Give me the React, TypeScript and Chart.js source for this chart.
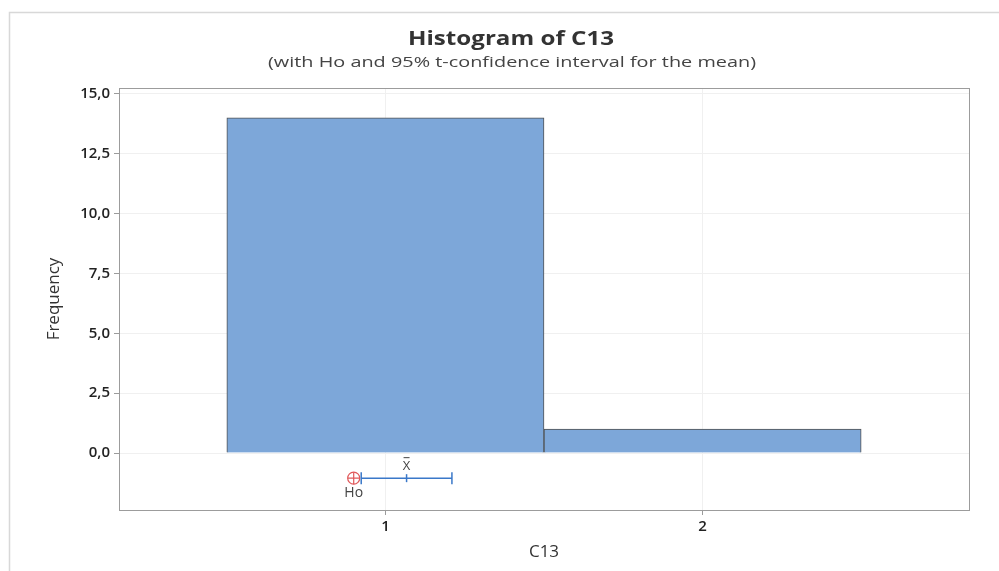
import React, { useEffect, useRef } from 'react';
import { Chart, registerables } from 'chart.js';

Chart.register(...registerables);

// ---- data ----
const binCenters = [1, 2];
const frequencies = [14, 1];
const yTickValues = [0, 2.5, 5, 7.5, 10, 12.5, 15];
const xTickValues = [1, 2];
const hoValue = [0.9];
const ciBounds = [0.9237, 1.2097];
const meanValue = [1.0667];
const intervalLevel = [-1.05];
const titleText = 'Histogram of C13';
const subtitleText = '(with Ho and 95% t-confidence interval for the mean)';
const xTitle = 'C13';
const yTitle = 'Frequency';

const FONT = '"Open Sans", "Noto Sans", sans-serif';
const TICK_FONT = '"Open Sans", "Noto Sans", sans-serif';

function drawStretched(ctx: CanvasRenderingContext2D, text: string, cx: number, cy: number, targetWidth: number) {
  const w = ctx.measureText(text).width || 1;
  const s = targetWidth / w;
  ctx.save();
  ctx.translate(cx, cy);
  ctx.scale(s, 1);
  ctx.fillText(text, 0, 0);
  ctx.restore();
}

export default function App() {
  const ref = useRef<HTMLCanvasElement | null>(null);

  useEffect(() => {
    document.body.style.margin = '0';
    const canvas = ref.current;
    if (!canvas) return;

    const decorPlugin = {
      id: 'decor',
      beforeDraw(chart: any) {
        const ctx = chart.ctx;
        ctx.save();
        ctx.fillStyle = '#ffffff';
        ctx.fillRect(0, 0, chart.width, chart.height);
        // outer frame
        ctx.strokeStyle = '#d8d8d8';
        ctx.lineWidth = 1.5;
        ctx.beginPath();
        ctx.moveTo(9.5, chart.height);
        ctx.lineTo(9.5, 12.5);
        ctx.lineTo(chart.width, 12.5);
        ctx.stroke();
        // titles
        ctx.textAlign = 'center';
        ctx.textBaseline = 'middle';
        ctx.fillStyle = '#333333';
        ctx.font = `bold 19px ${FONT}`;
        drawStretched(ctx, titleText, 511, 40, 206);
        ctx.fillStyle = '#444444';
        ctx.font = `15px ${FONT}`;
        drawStretched(ctx, subtitleText, 512, 63, 488);
        ctx.restore();
      },
      afterDraw(chart: any) {
        const ctx = chart.ctx;
        const a = chart.chartArea;
        ctx.save();
        ctx.strokeStyle = '#9c9c9c';
        ctx.lineWidth = 1;
        ctx.strokeRect(a.left + 0.5, a.top + 0.5, a.right - a.left, a.bottom - a.top);
        // interval labels
        const xs = chart.scales.x;
        const ys = chart.scales.y;
        const yLine = ys.getPixelForValue(intervalLevel[0]);
        ctx.fillStyle = '#444444';
        ctx.font = `13px ${FONT}`;
        ctx.textAlign = 'center';
        ctx.textBaseline = 'middle';
        const mx = xs.getPixelForValue(meanValue[0]);
        ctx.fillText('X', mx, yLine - 12);
        ctx.strokeStyle = '#444444';
        ctx.lineWidth = 1;
        ctx.beginPath();
        ctx.moveTo(mx - 3, yLine - 20.5);
        ctx.lineTo(mx + 3, yLine - 20.5);
        ctx.stroke();
        const hx = xs.getPixelForValue(hoValue[0]);
        ctx.font = `14px ${FONT}`;
        ctx.fillText('Ho', hx, yLine + 15);
        ctx.restore();
      },
    };

    const chart = new Chart(canvas, {
      type: 'bar',
      data: {
        datasets: [
          {
            type: 'line',
            label: 'CI',
            data: ciBounds.map((x) => ({ x, y: intervalLevel[0] })),
            borderColor: '#3a78c9',
            borderWidth: 1.5,
            pointStyle: 'line',
            rotation: 90,
            pointRadius: 6,
            pointBorderColor: '#3a78c9',
            pointBorderWidth: 1.5,
            order: 0,
          } as any,
          {
            type: 'line',
            label: 'Mean',
            data: meanValue.map((x) => ({ x, y: intervalLevel[0] })),
            showLine: false,
            pointStyle: 'line',
            rotation: 90,
            pointRadius: 4,
            pointBorderColor: '#3a78c9',
            pointBorderWidth: 1.5,
            order: 0,
          } as any,
          {
            type: 'line',
            label: 'Ho circle',
            data: hoValue.map((x) => ({ x, y: intervalLevel[0] })),
            showLine: false,
            pointStyle: 'circle',
            pointRadius: 6,
            pointBackgroundColor: 'rgba(255,255,255,0)',
            pointBorderColor: '#e0585a',
            pointBorderWidth: 1.2,
            order: 0,
          } as any,
          {
            type: 'line',
            label: 'Ho cross',
            data: hoValue.map((x) => ({ x, y: intervalLevel[0] })),
            showLine: false,
            pointStyle: 'cross',
            pointRadius: 6,
            pointBorderColor: '#e0585a',
            pointBorderWidth: 1.2,
            order: 0,
          } as any,
          {
            type: 'bar',
            label: 'Frequency',
            data: binCenters.map((x, i) => ({ x, y: frequencies[i] })),
            backgroundColor: '#7da7d9',
            borderColor: '#505050',
            borderWidth: 1,
            barPercentage: 1,
            categoryPercentage: 1,
            order: 1,
          } as any,
        ],
      },
      options: {
        responsive: false,
        animation: false,
        events: [],
        layout: { padding: { top: 88, right: 30, left: 0, bottom: 0 } },
        plugins: {
          legend: { display: false },
          tooltip: { enabled: false },
          title: { display: false },
        },
        scales: {
          x: {
            type: 'linear',
            min: 0.16,
            max: 2.84,
            offset: false,
            afterFit: (s: any) => {
              s.height = 61;
            },
            afterBuildTicks: (s: any) => {
              s.ticks = xTickValues.map((v) => ({ value: v }));
            },
            grid: {
              offset: false,
              color: '#f0f0f0',
              tickColor: '#9c9c9c',
              tickLength: 5,
              drawTicks: true,
            },
            border: { display: false },
            ticks: {
              color: '#222222',
              font: { family: TICK_FONT, size: 15, weight: '600' },
              padding: 3,
              maxRotation: 0,
              callback: (v: any) => String(v),
            },
            title: {
              display: true,
              text: xTitle,
              color: '#333333',
              font: { family: FONT, size: 17 },
              padding: { top: 0, bottom: 9 },
            },
          },
          y: {
            type: 'linear',
            min: -2.38,
            max: 15.25,
            afterFit: (s: any) => {
              s.width = 119;
            },
            afterBuildTicks: (s: any) => {
              s.ticks = yTickValues.map((v) => ({ value: v }));
            },
            grid: {
              color: '#f0f0f0',
              tickColor: '#9c9c9c',
              tickLength: 5,
              drawTicks: true,
            },
            border: { display: false },
            ticks: {
              color: '#222222',
              font: { family: TICK_FONT, size: 15, weight: '600' },
              padding: 4,
              callback: (v: any) => Number(v).toFixed(1).replace('.', ','),
            },
            title: {
              display: true,
              text: yTitle,
              color: '#333333',
              font: { family: FONT, size: 17 },
              padding: { top: 44, bottom: 0 },
            },
          },
        },
      },
      plugins: [decorPlugin],
    } as any);

    return () => chart.destroy();
  }, []);

  return (
    <div style={{ position: 'absolute', left: 0, top: 0, width: 999, height: 571 }}>
      <canvas ref={ref} width={999} height={571} style={{ width: 999, height: 571 }} />
    </div>
  );
}
